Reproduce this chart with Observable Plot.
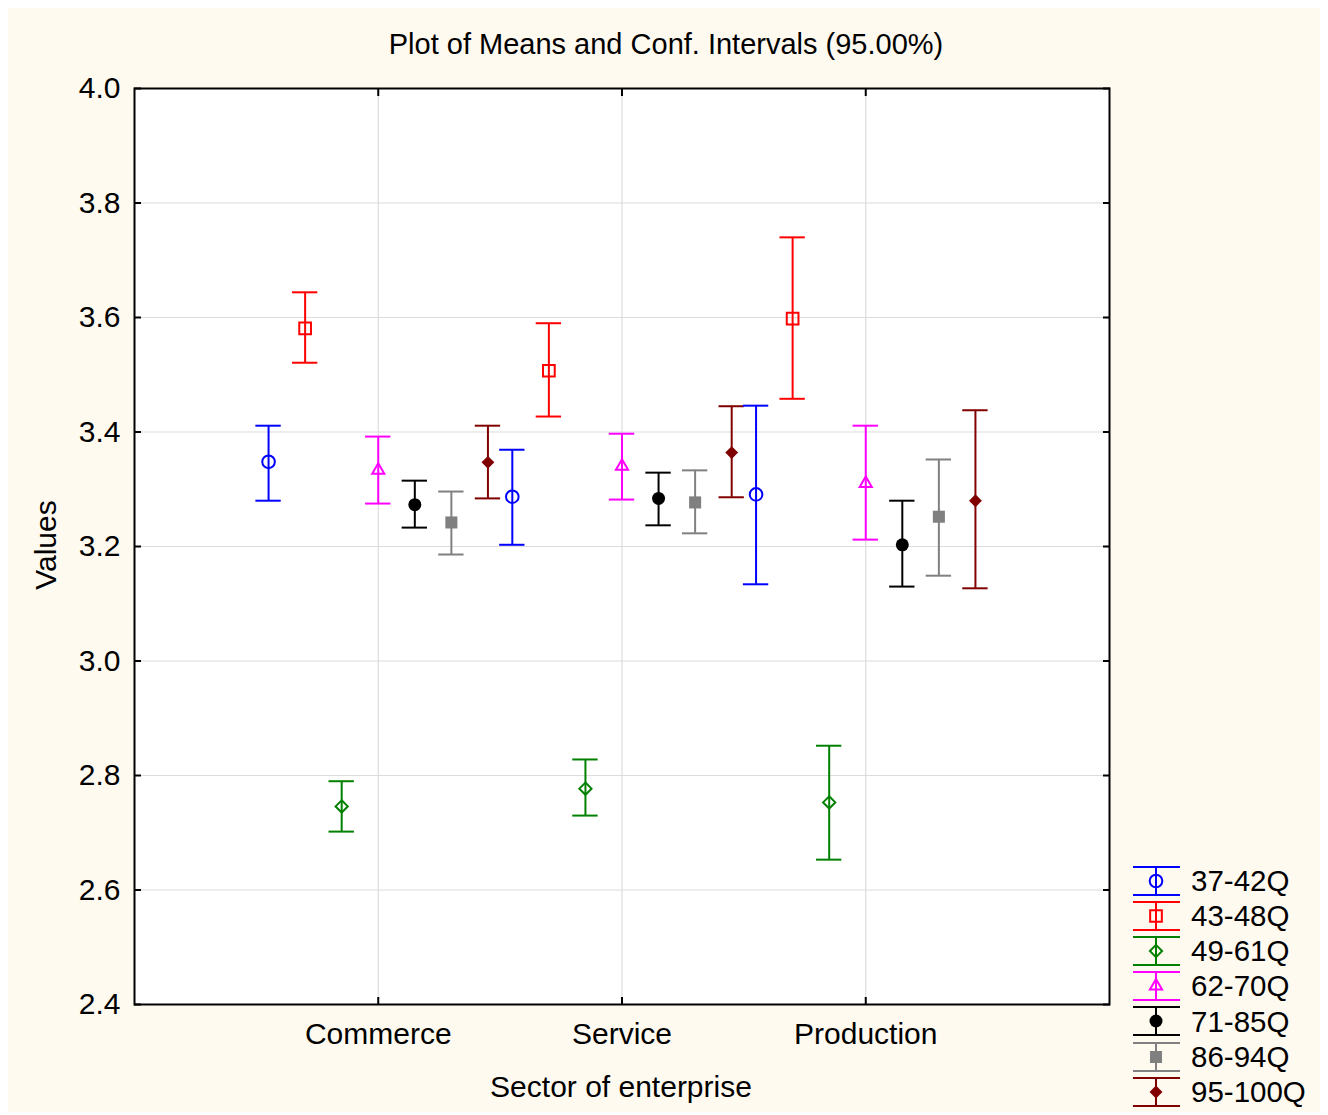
<!DOCTYPE html>
<html>
<head>
<meta charset="utf-8">
<script src="https://cdn.jsdelivr.net/npm/d3@7"></script>
<script src="https://cdn.jsdelivr.net/npm/@observablehq/plot@0.6"></script>
<style>
  html, body { margin: 0; padding: 0; background: #ffffff; }
  #wrap { position: relative; width: 1328px; height: 1115px; font-family: "Liberation Sans", Arial, sans-serif; color: #000; }
  #bg { position: absolute; left: 8px; top: 8px; width: 1312px; height: 1104px; background: #FFFAF0; }
  #chart { position: absolute; left: 0; top: 0; }
  .lbl { position: absolute; font-size: 29px; white-space: nowrap; }
  #title { left: 666px; top: 44px; transform: translate(-50%, -50%); }
  #xlabel { left: 621px; top: 1087px; transform: translate(-50%, -50%); font-size: 30px; }
  #ylabel { left: 46px; top: 545px; transform: translate(-50%, -50%) rotate(-90deg); font-size: 30px; }
  #legend { position: absolute; left: 1130px; top: 863px; }
  .row { display: flex; align-items: center; height: 35.2px; }
  .row span { font-size: 29.5px; margin-left: 9px; line-height: 1; }
</style>
</head>
<body>
<div id="wrap">
  <div id="bg"></div>
  <div id="chart"></div>
  <div class="lbl" id="title">Plot of Means and Conf. Intervals (95.00%)</div>
  <div class="lbl" id="xlabel">Sector of enterprise</div>
  <div class="lbl" id="ylabel">Values</div>
  <div id="legend"></div>
</div>
<script>
// ---- data ----
const sectors = ["Commerce", "Service", "Production"];
const groups = ["37-42Q", "43-48Q", "49-61Q", "62-70Q", "71-85Q", "86-94Q", "95-100Q"];

// means per sector (in group order)
const meanCommerce   = [3.348, 3.581, 2.746, 3.333, 3.273, 3.242, 3.347];
const meanService    = [3.287, 3.507, 2.777, 3.340, 3.284, 3.277, 3.364];
const meanProduction = [3.291, 3.598, 2.753, 3.310, 3.203, 3.252, 3.280];

// lower 95% bounds
const lowCommerce    = [3.280, 3.521, 2.702, 3.275, 3.233, 3.186, 3.284];
const lowService     = [3.203, 3.427, 2.730, 3.282, 3.237, 3.223, 3.286];
const lowProduction  = [3.134, 3.458, 2.653, 3.212, 3.130, 3.149, 3.127];

// upper 95% bounds
const highCommerce   = [3.411, 3.644, 2.790, 3.392, 3.315, 3.296, 3.411];
const highService    = [3.369, 3.590, 2.828, 3.397, 3.329, 3.333, 3.445];
const highProduction = [3.446, 3.740, 2.852, 3.411, 3.280, 3.352, 3.438];

const yTicks = [2.4, 2.6, 2.8, 3.0, 3.2, 3.4, 3.6, 3.8, 4.0];

// ---- styles ----
const colors  = ["#0000FF", "#FF0000", "#008000", "#FF00FF", "#000000", "#808080", "#800000"];
const symbols = ["circle", "square", "diamond2", "triangle2", "circle", "square", "diamond2"];
const filled  = [false, false, false, false, true, true, true];
const radii   = [6.3, 6.6, 5.5, 5.8, 6.5, 6.8, 5.8];

const means = [meanCommerce, meanService, meanProduction];
const lows  = [lowCommerce, lowService, lowProduction];
const highs = [highCommerce, highService, highProduction];

const groupStep = 0.15;
const capHalf = 0.052;

const table = [];
sectors.forEach((s, si) => {
  groups.forEach((g, gi) => {
    table.push({
      sector: s, group: g, gi,
      xpos: si + 1 + (gi - 3) * groupStep,
      mean: means[si][gi], lo: lows[si][gi], hi: highs[si][gi]
    });
  });
});

const col = d => colors[d.gi];

const marks = [
  Plot.gridY(yTicks.slice(1, -1), {stroke: "#dcdcdc", strokeOpacity: 1, strokeWidth: 1.2}),
  Plot.gridX([1, 2, 3], {stroke: "#dcdcdc", strokeOpacity: 1, strokeWidth: 1.2}),
  // labels
  Plot.axisY(yTicks, {anchor: "left", tickSize: 0, tickPadding: 14, tickFormat: d3.format(".1f"), fontSize: 30, label: null}),
  Plot.axisX([1, 2, 3], {anchor: "bottom", tickSize: 0, tickPadding: 18, tickFormat: d => sectors[d - 1], fontSize: 30, label: null}),
  // inward ticks
  Plot.axisY(yTicks, {anchor: "left", tickSize: -7, tickFormat: () => "", label: null, strokeWidth: 2}),
  Plot.axisY(yTicks, {anchor: "right", tickSize: -7, tickFormat: () => "", label: null, strokeWidth: 2}),
  Plot.axisX([1, 2, 3], {anchor: "bottom", tickSize: -7, tickFormat: () => "", label: null, strokeWidth: 2}),
  Plot.axisX([1, 2, 3], {anchor: "top", tickSize: -7, tickFormat: () => "", label: null, strokeWidth: 2}),
  // error bars
  Plot.ruleX(table, {x: "xpos", y1: "lo", y2: "hi", stroke: col, strokeWidth: 2}),
  Plot.ruleY(table, {y: "lo", x1: d => d.xpos - capHalf, x2: d => d.xpos + capHalf, stroke: col, strokeWidth: 2}),
  Plot.ruleY(table, {y: "hi", x1: d => d.xpos - capHalf, x2: d => d.xpos + capHalf, stroke: col, strokeWidth: 2})
];

// markers, one mark per group so each has its own symbol / size
groups.forEach((g, gi) => {
  const rows = table.filter(d => d.gi === gi);
  marks.push(Plot.dot(rows, {
    x: "xpos", y: "mean",
    symbol: () => symbols[gi],
    r: radii[gi],
    stroke: filled[gi] ? "none" : colors[gi],
    fill: filled[gi] ? colors[gi] : "none",
    strokeWidth: 2
  }));
});

marks.push(Plot.frame({stroke: "#000", strokeWidth: 2}));

const chart = Plot.plot({
  width: 1328,
  height: 1115,
  marginLeft: 134,
  marginRight: 219,
  marginTop: 88,
  marginBottom: 111,
  x: {type: "linear", domain: [0, 4]},
  y: {type: "linear", domain: [2.4, 4.0]},
  symbol: {type: "identity"},
  style: {background: "transparent", fontFamily: "'Liberation Sans', Arial, sans-serif", fontSize: "30px", color: "#000", overflow: "visible"},
  marks
});
document.getElementById("chart").appendChild(chart);
const svg = d3.select(chart);
// white plot area behind
svg.insert("rect", ":first-child")
  .attr("x", 134).attr("y", 88).attr("width", 1109 - 134).attr("height", 1004 - 88)
  .attr("fill", "#ffffff");

// ---- legend ----
const symMap = {circle: d3.symbolCircle, square: d3.symbolSquare, diamond2: d3.symbolDiamond2, triangle2: d3.symbolTriangle2};
const legend = d3.select("#legend");
groups.forEach((g, gi) => {
  const row = legend.append("div").attr("class", "row");
  const s = row.append("svg").attr("width", 52).attr("height", 32);
  const cx = 26, cy = 16;
  s.append("line").attr("x1", 3).attr("x2", 50).attr("y1", 2).attr("y2", 2).attr("stroke", colors[gi]).attr("stroke-width", 2);
  s.append("line").attr("x1", 3).attr("x2", 50).attr("y1", 30).attr("y2", 30).attr("stroke", colors[gi]).attr("stroke-width", 2);
  s.append("line").attr("x1", cx).attr("x2", cx).attr("y1", 2).attr("y2", 30).attr("stroke", colors[gi]).attr("stroke-width", 2);
  s.append("path")
    .attr("transform", `translate(${cx},${cy})`)
    .attr("d", d3.symbol(symMap[symbols[gi]], Math.PI * radii[gi] * radii[gi])())
    .attr("fill", filled[gi] ? colors[gi] : "none")
    .attr("stroke", filled[gi] ? "none" : colors[gi])
    .attr("stroke-width", 2);
  row.append("span").text(g);
});
</script>
</body>
</html>
